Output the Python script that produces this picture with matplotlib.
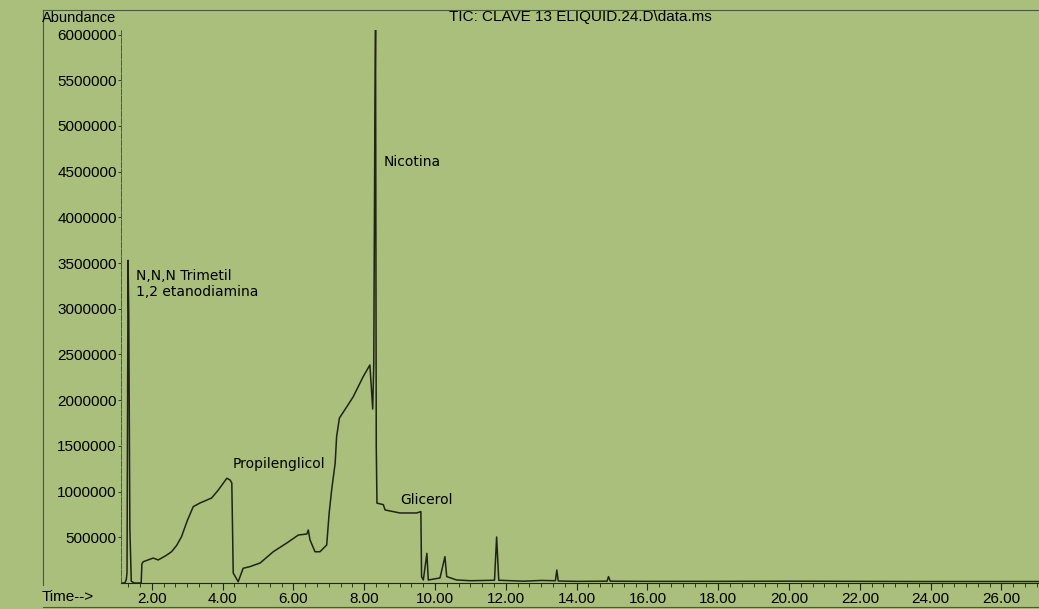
import numpy as np
import matplotlib.pyplot as plt
from matplotlib.lines import Line2D
from matplotlib.ticker import MultipleLocator, FuncFormatter

# TIC chromatogram, retention time (min) vs abundance
time_min = [1.13, 1.24, 1.28, 1.30, 1.33, 1.35, 1.38, 1.42, 1.50, 1.70,
            1.72, 1.76, 2.04, 2.18, 2.40, 2.56, 2.70, 2.84, 3.00, 3.17,
            3.36, 3.69, 3.88, 4.12, 4.21, 4.26, 4.30, 4.44, 4.58, 4.77,
            5.06, 5.43, 5.81, 6.14, 6.38, 6.42, 6.47, 6.61, 6.75, 6.94,
            7.01, 7.08, 7.18, 7.22, 7.30, 7.51, 7.69, 7.97, 8.16, 8.24,
            8.27, 8.30, 8.32, 8.34, 8.36, 8.54, 8.59, 9.01, 9.48, 9.60,
            9.62, 9.67, 9.77, 9.81, 10.14, 10.28, 10.33, 10.61, 11.00, 11.68,
            11.74, 11.80, 12.50, 13.00, 13.40, 13.44, 13.48, 14.00, 14.86, 14.90,
            14.95, 16.00, 18.00, 20.00, 22.00, 24.00, 26.00, 27.10]
abundance = [0, 0, 40000, 110000, 3530000, 2900000, 600000, 20000, 0, 0,
             210000, 233000, 273000, 252000, 300000, 343000, 410000, 507000, 680000, 835000,
             875000, 930000, 1018000, 1146000, 1127000, 1094000, 109000, 14000, 161000, 179000,
             219000, 342000, 437000, 525000, 536000, 580000, 470000, 342000, 342000, 416000,
             766000, 1018000, 1313000, 1601000, 1805000, 1929000, 2038000, 2257000, 2385000, 1903000,
             2400000, 5000000, 6050000, 1500000, 874000, 857000, 799000, 766000, 766000, 781000,
             70000, 33000, 324000, 33000, 55000, 288000, 70000, 33000, 25000, 30000,
             503000, 30000, 20000, 28000, 25000, 142000, 22000, 18000, 20000, 70000,
             20000, 18000, 18000, 20000, 18000, 16000, 16000, 16000]

peak_labels = ["N,N,N Trimetil\n1,2 etanodiamina", "Propilenglicol", "Nicotina", "Glicerol"]
label_time = [1.55, 4.27, 8.56, 9.01]
label_abund = [3270000, 1300000, 4610000, 908000]

y_ticks = [500000, 1000000, 1500000, 2000000, 2500000, 3000000,
           3500000, 4000000, 4500000, 5000000, 5500000, 6000000]

bg = "#a9bf7b"
ink = "#1e2418"

fig = plt.figure(figsize=(10.39, 6.09), dpi=100, facecolor=bg)
ax = fig.add_axes([121 / 1039, 26 / 609, 1 - 121 / 1039, (583 - 30) / 609])
ax.set_facecolor(bg)

ax.plot(time_min, abundance, color=ink, lw=1.1)

ax.set_xlim(1.13, 27.06)
ax.set_ylim(0, 6050000)

ax.set_yticks(y_ticks)
ax.yaxis.set_major_formatter(FuncFormatter(lambda v, p: f"{int(v)}"))
ax.set_xticks(np.arange(2, 27, 2))
ax.xaxis.set_major_formatter(FuncFormatter(lambda v, p: f"{v:.2f}"))
ax.xaxis.set_minor_locator(MultipleLocator(1 / 3))

for lbl in ax.get_xticklabels() + ax.get_yticklabels():
    lbl.set_fontfamily("Liberation Sans")
    lbl.set_fontsize(11)
    lbl.set_color("black")

ax.tick_params(axis="x", which="major", length=5, width=0.8, color=ink, pad=1.5)
ax.tick_params(axis="x", which="minor", length=3, width=0.6, color=ink)
ax.tick_params(axis="y", which="major", length=2, width=0.6, color=ink, pad=1)

for side in ["top", "right"]:
    ax.spines[side].set_visible(False)
ax.spines["left"].set_color("#4a5a3a")
ax.spines["left"].set_linewidth(0.7)
ax.spines["left"].set_linestyle((0, (6, 1.5)))
ax.spines["bottom"].set_color(ink)
ax.spines["bottom"].set_linewidth(0.8)

for txt, t, a in zip(peak_labels, label_time, label_abund):
    ax.text(t, a, txt, fontsize=10, family="DejaVu Sans", color="black",
            ha="left", va="center", linespacing=1.15)

# header and outer frame of the printout
fig.text(42 / 1039, 1 - 18 / 609, "Abundance", fontsize=10.5,
         family="Liberation Sans", ha="left", va="center")
fig.text(580 / 1039, 1 - 17 / 609, "TIC: CLAVE 13 ELIQUID.24.D\\data.ms",
         fontsize=11, family="Liberation Sans", ha="center", va="center")
fig.text(42 / 1039, 1 - 597 / 609, "Time-->", fontsize=11,
         family="Liberation Sans", ha="left", va="center")

frame_kw = dict(color="#4a5a3a", lw=0.8, transform=fig.transFigure)
fig.add_artist(Line2D([43 / 1039, 1], [1 - 10 / 609, 1 - 10 / 609], **frame_kw))
fig.add_artist(Line2D([43 / 1039, 43 / 1039], [1 - 10 / 609, 1 - 585 / 609], **frame_kw))
fig.add_artist(Line2D([43 / 1039, 1], [1 - 607 / 609, 1 - 607 / 609], **frame_kw))

fig.savefig("out.png", dpi=100, facecolor=bg)
